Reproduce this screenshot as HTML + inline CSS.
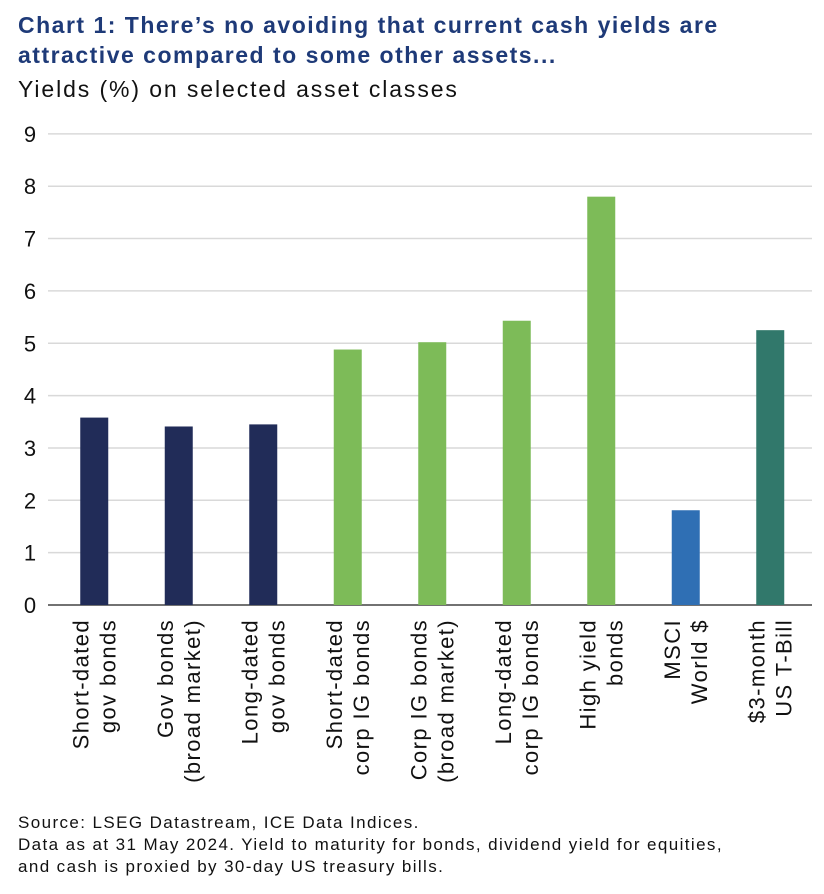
<!DOCTYPE html>
<html><head><meta charset="utf-8"><style>
body{margin:0;background:#fff;font-family:"Liberation Sans",sans-serif;}
#wrap{position:relative;width:824px;height:894px;overflow:hidden}
.t{position:absolute;left:18px;color:#1e3a78;font-weight:bold;font-size:23px;line-height:30px;letter-spacing:1.5px;white-space:nowrap}
.sub{position:absolute;left:18px;top:76px;font-size:23px;color:#111;letter-spacing:1.9px;white-space:nowrap}
.src{position:absolute;left:18px;top:812px;font-size:17px;line-height:22px;color:#111;letter-spacing:1.4px;white-space:nowrap}
</style></head><body>
<div id="wrap">
<div class="t" style="top:10px">Chart 1: There’s no avoiding that current cash yields are<br>attractive compared to some other assets...</div>
<div class="sub">Yields (%) on selected asset classes</div>
<svg id="svg" width="824" height="894" style="position:absolute;left:0;top:0"></svg>
<div class="src">Source: LSEG Datastream, ICE Data Indices.<br>Data as at 31 May 2024. Yield to maturity for bonds, dividend yield for equities,<br>and cash is proxied by 30-day US treasury bills.</div>
</div>
<script>
const categories=[["Short-dated","gov bonds"],["Gov bonds","(broad market)"],["Long-dated","gov bonds"],["Short-dated","corp IG bonds"],["Corp IG bonds","(broad market)"],["Long-dated","corp IG bonds"],["High yield","bonds"],["MSCI","World $"],["$3-month","US T-Bill"]];
const values=[3.58,3.41,3.45,4.88,5.02,5.43,7.8,1.81,5.25];
const colors=["#212c58","#212c58","#212c58","#7dbb58","#7dbb58","#7dbb58","#7dbb58","#2f6fb4","#31786b"];
const yTicks=[0,1,2,3,4,5,6,7,8,9];
const svg=document.getElementById('svg');const NS="http://www.w3.org/2000/svg";
const y0=605,unit=52.35,x0=52,band=84.5,bw=28;
const y=v=>y0-v*unit;const xc=i=>x0+band*(i+0.5);
function mk(t,a){const e=document.createElementNS(NS,t);for(const k in a)e.setAttribute(k,a[k]);svg.appendChild(e);return e;}
yTicks.forEach(v=>{
 const l=mk('line',{x1:48,x2:812,y1:y(v),y2:y(v),stroke:v===0?'#444':'#d9d9d9','stroke-width':1.5});
 
 
 const t=mk('text',{x:30,y:y(v)+8,'font-size':22,'text-anchor':'middle',fill:'#111','font-family':'Liberation Sans'});
 t.textContent=v;
 
 
});
values.forEach((v,i)=>{
 const r=mk('rect',{x:xc(i)-bw/2,y:y(v),width:bw,height:v*unit,fill:colors[i]});
 
 
 const c=categories[i];
 const g=mk('text',{transform:`translate(${xc(i)},619) rotate(-90)`,'font-size':22,'letter-spacing':1.4,'text-anchor':'end',fill:'#111','font-family':'Liberation Sans'});
 
 
 c.forEach((s,j)=>{const ts=document.createElementNS(NS,'tspan');ts.setAttribute('x',0);ts.setAttribute('y',j===0?-6:21);ts.textContent=s;g.appendChild(ts);});
});
</script>
</body></html>
